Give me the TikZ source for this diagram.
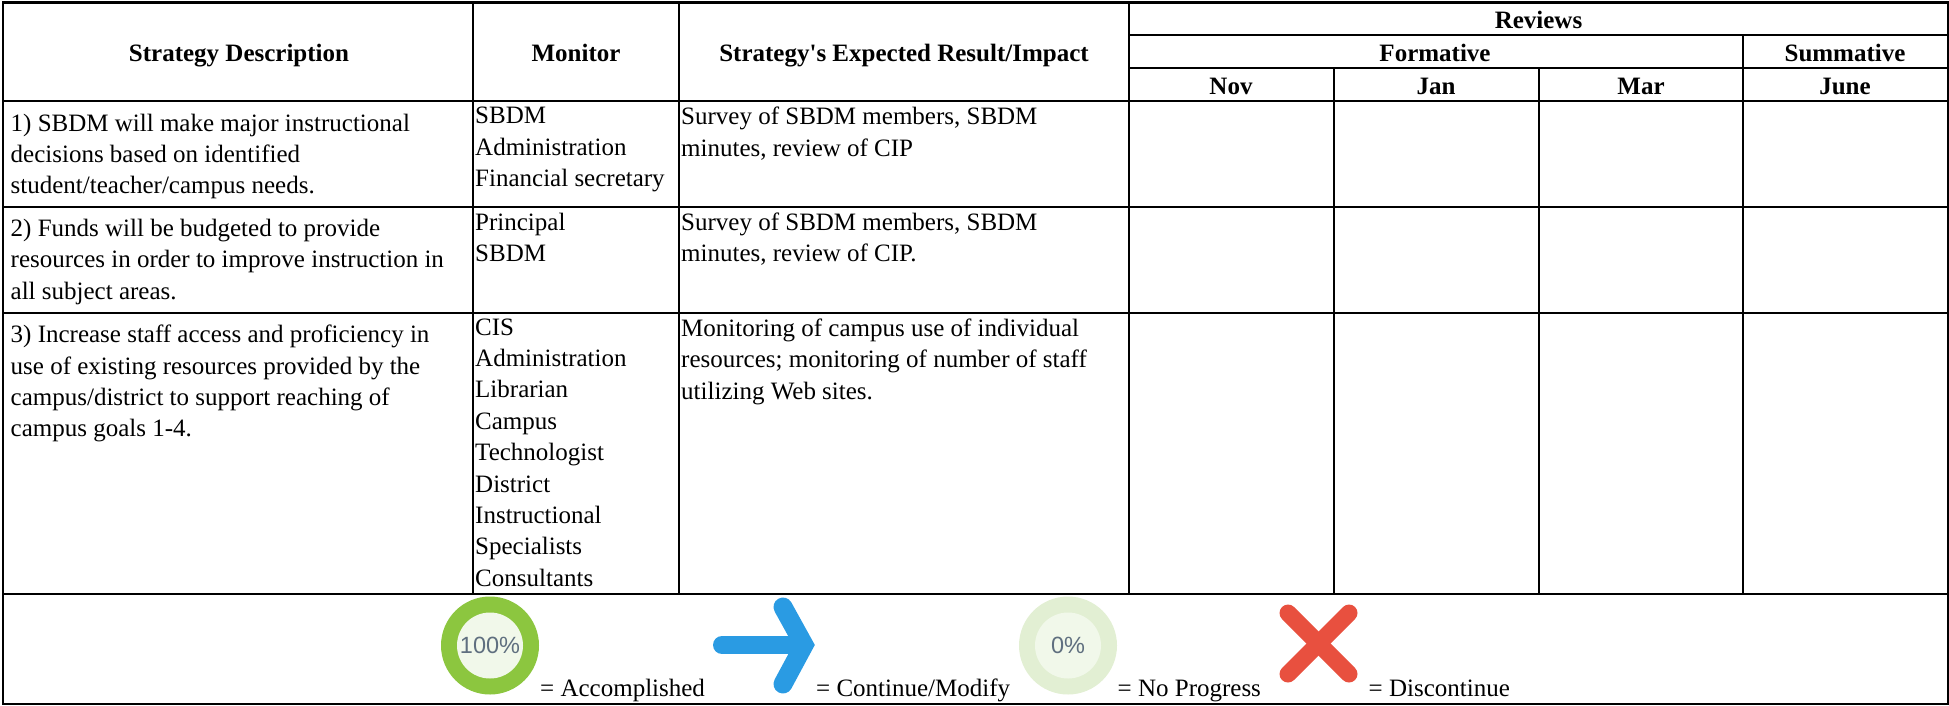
\documentclass[tikz,border=0pt]{standalone}
\usepackage{fontspec}
\setmainfont{Liberation Serif}
\newfontfamily\iconfont{Liberation Sans}
\definecolor{ringgreen}{HTML}{8CC63F}
\definecolor{ringpale}{HTML}{E2EFD3}
\definecolor{innerpale}{HTML}{F1F8EA}
\definecolor{arrowblue}{HTML}{2A9BE3}
\definecolor{crossred}{HTML}{E8503F}
\definecolor{pctgray}{HTML}{5F6F7F}
\tikzset{
  gridline/.style={draw=black,line width=2pt},
  outerline/.style={draw=black,line width=2.6pt},
  headcell/.style={inner sep=0pt,anchor=base,font=\fontsize{25}{30}\selectfont\bfseries},
  bodycell/.style={inner sep=0pt,anchor=north west,align=left,font=\fontsize{25}{31.35}\selectfont},
  legendtext/.style={inner sep=0pt,anchor=base west,font=\fontsize{25}{30}\selectfont},
  pct/.style={inner sep=0pt,text=pctgray,font=\fontsize{23.5}{26}\selectfont\iconfont},
}
\begin{document}
\begin{tikzpicture}[x=1pt,y=-1pt]
\useasboundingbox (0,0) rectangle (1949,705);
% grid
\draw[gridline] (3,101) -- (1948,101);
\draw[gridline] (3,207) -- (1948,207);
\draw[gridline] (3,313) -- (1948,313);
\draw[gridline] (3,594) -- (1948,594);
\draw[gridline] (1129,35) -- (1948,35);
\draw[gridline] (1129,68) -- (1948,68);
\draw[gridline] (473,2) -- (473,594);
\draw[gridline] (679,2) -- (679,594);
\draw[gridline] (1129,2) -- (1129,594);
\draw[gridline] (1334,68) -- (1334,594);
\draw[gridline] (1539,68) -- (1539,594);
\draw[gridline] (1743,35) -- (1743,594);
\draw[outerline] (3,2.5) rectangle (1948,704);
% header
\node[headcell] (hstrategy) at (239,61) {Strategy Description};
\node[headcell] (hmonitor) at (576,61) {Monitor};
\node[headcell] (hresult) at (904,61) {Strategy\textquotesingle s Expected Result/Impact};
\node[headcell] (hreviews) at (1538.5,28) {Reviews};
\node[headcell] (hform) at (1435,61) {Formative};
\node[headcell] (hsumm) at (1845,61) {Summative};
\node[headcell] (hnov) at (1231,94) {Nov};
\node[headcell] (hjan) at (1436,94) {Jan};
\node[headcell] (hmar) at (1641,94) {Mar};
\node[headcell] (hjune) at (1845,94) {June};
% body
\node[bodycell] (s1) at (10.5,113.5) {1) SBDM will make major instructional\\decisions based on identified\\student/teacher/campus needs.};
\node[bodycell] (m1) at (475,107) {SBDM\\Administration\\Financial secretary};
\node[bodycell] (r1) at (681,107) {Survey of SBDM members, SBDM\\minutes, review of CIP};
\node[bodycell] (s2) at (10.5,219) {2) Funds will be budgeted to provide\\resources in order to improve instruction in\\all subject areas.};
\node[bodycell] (m2) at (475,212.5) {Principal\\SBDM};
\node[bodycell] (r2) at (681,212.5) {Survey of SBDM members, SBDM\\minutes, review of CIP.};
\node[bodycell] (s3) at (10.5,325) {3) Increase staff access and proficiency in\\use of existing resources provided by the\\campus/district to support reaching of\\campus goals 1-4.};
\node[bodycell] (m3) at (475,318.5) {CIS\\Administration\\Librarian\\Campus\\Technologist\\District\\Instructional\\Specialists\\Consultants};
\node[bodycell] (r3) at (681,318.5) {Monitoring of campus use of individual\\resources; monitoring of number of staff\\utilizing Web sites.};
% legend
\fill[ringgreen] (490,645.5) circle (49);
\fill[innerpale] (490,645.5) circle (33);
\node[pct] (p100) at (490,645.5) {100\%};
\node[legendtext] (l1) at (540,696) {= Accomplished};
\draw[arrowblue,line width=18pt,line cap=round] (722,645) -- (800,645);
\draw[arrowblue,line width=19pt,line cap=round,miter limit=10] (783,607) -- (804,645) -- (783,684);
\node[legendtext] (l2) at (816,696) {= Continue/Modify};
\fill[ringpale] (1068,645.5) circle (49);
\fill[innerpale] (1068,645.5) circle (33);
\node[pct] (p0) at (1068,645.5) {0\%};
\node[legendtext] (l3) at (1117.5,696) {= No Progress};
\draw[crossred,line width=17pt,line cap=round] (1288,613) -- (1349,674);
\draw[crossred,line width=17pt,line cap=round] (1349,613) -- (1288,674);
\node[legendtext] (l4) at (1368.5,696) {= Discontinue};
\end{tikzpicture}
\end{document}
